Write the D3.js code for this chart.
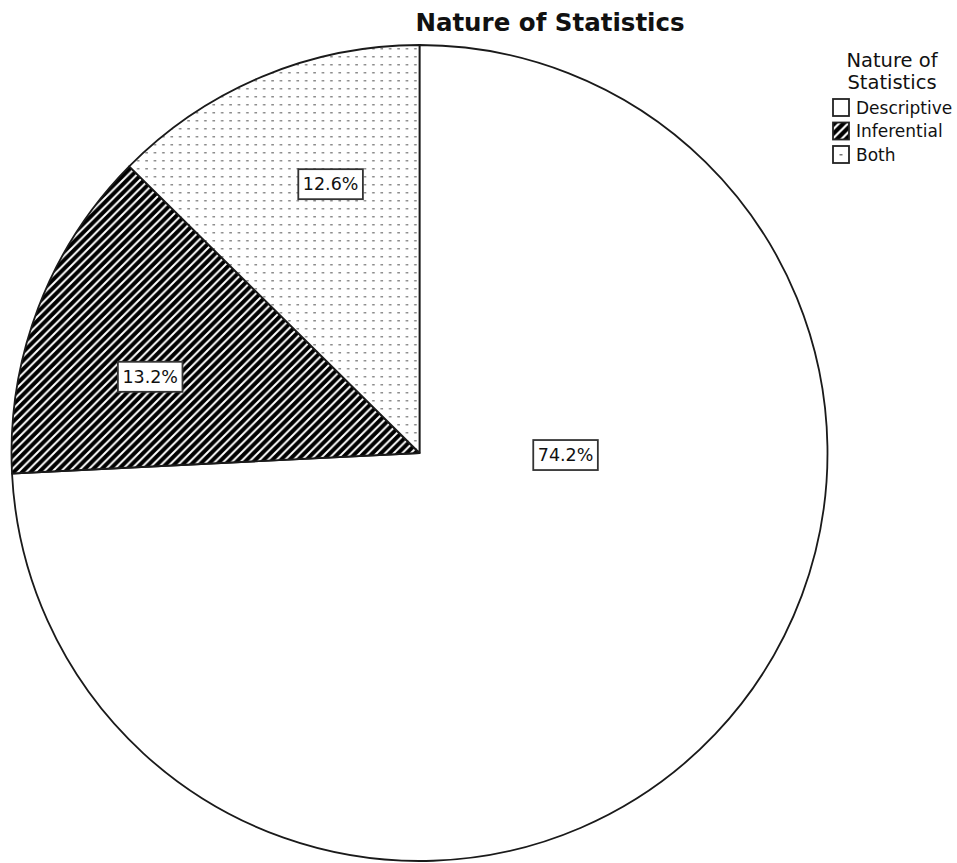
<!DOCTYPE html>
<html>
<head>
<meta charset="utf-8">
<script src="https://cdn.jsdelivr.net/npm/d3@7"></script>
<style>
  html, body { margin: 0; padding: 0; background: #fff; }
  svg { display: block; }
  text { font-family: "DejaVu Sans", "Open Sans", sans-serif; }
</style>
</head>
<body>
<svg id="chart" width="957" height="863"></svg>
<script>
// Data
const categories = ["Descriptive", "Inferential", "Both"];
const percents = [74.2, 13.2, 12.6];
const titleText = "Nature of Statistics";
const legendTitle = ["Nature of", "Statistics"];

// Layout
const W = 957, H = 863;
const cx = 419.5, cy = 453, R = 408;
const fillIds = ["fill-plain", "fill-hatch", "fill-dots"];
// label anchors in polar form (degrees clockwise from 12 o'clock, fraction of radius)
const labelPolar = [
  { deg: 90.8, r: 0.358 },
  { deg: 285.8, r: 0.686 },
  { deg: 341.7, r: 0.694 }
];

const svg = d3.select("#chart");
const defs = svg.append("defs");

// diagonal hatch: black ground with thin white "/" stripes
const hatch = defs.append("pattern")
  .attr("id", "fill-hatch").attr("patternUnits", "userSpaceOnUse")
  .attr("width", 8.5).attr("height", 8.5);
hatch.append("rect").attr("width", 8.5).attr("height", 8.5).attr("fill", "#000");
hatch.append("path")
  .attr("d", "M-2,2 L2,-2 M0,8.5 L8.5,0 M6.5,10.5 L10.5,6.5")
  .attr("stroke", "#fff").attr("stroke-width", 2);

// dotted fill: small grey dashes on white
const dots = defs.append("pattern")
  .attr("id", "fill-dots").attr("patternUnits", "userSpaceOnUse")
  .attr("width", 8.4).attr("height", 8);
dots.append("rect").attr("width", 8.4).attr("height", 8).attr("fill", "#fff");
dots.append("rect").attr("x", 3).attr("y", 3).attr("width", 2.6).attr("height", 1.5).attr("fill", "#8c8c8c");

// legend hatch (coarser)
const lhatch = defs.append("pattern")
  .attr("id", "legend-hatch").attr("patternUnits", "userSpaceOnUse")
  .attr("width", 9).attr("height", 9);
lhatch.append("rect").attr("width", 9).attr("height", 9).attr("fill", "#000");
lhatch.append("path")
  .attr("d", "M-2,2 L2,-2 M0,9 L9,0 M7,11 L11,7")
  .attr("stroke", "#fff").attr("stroke-width", 2.2);

const fillFor = i => i === 0 ? "#fff" : `url(#${fillIds[i]})`;

// Title
svg.append("text")
  .attr("x", 550).attr("y", 31)
  .attr("text-anchor", "middle")
  .attr("font-size", 24.5).attr("font-weight", "bold")
  .attr("fill", "#111")
  .text(titleText);

// Pie
const pie = d3.pie().sort(null).value(d => d)(percents);
const arc = d3.arc().innerRadius(0).outerRadius(R);
const g = svg.append("g").attr("transform", `translate(${cx},${cy})`);

g.selectAll("path.slice")
  .data(pie)
  .join("path")
  .attr("class", "slice")
  .attr("d", arc)
  .attr("fill", (d, i) => fillFor(i))
  .attr("stroke", "#1a1a1a")
  .attr("stroke-width", 1.8)
  .attr("stroke-linejoin", "round");

// Value labels in boxes
const fmt = v => d3.format(".1f")(v) + "%";
const lab = g.selectAll("g.lab")
  .data(pie)
  .join("g")
  .attr("class", "lab")
  .attr("transform", (d, i) => {
    const a = labelPolar[i].deg * Math.PI / 180;
    const rr = labelPolar[i].r * R;
    return `translate(${rr * Math.sin(a)},${-rr * Math.cos(a)})`;
  });

lab.each(function(d) {
  const sel = d3.select(this);
  const t = sel.append("text")
    .attr("text-anchor", "middle")
    .attr("dy", "0.36em")
    .attr("font-size", 17.5)
    .attr("fill", "#111")
    .text(fmt(d.data));
  const w = t.node().getComputedTextLength();
  sel.insert("rect", "text")
    .attr("x", -w / 2 - 4.5).attr("y", -15)
    .attr("width", w + 9).attr("height", 30)
    .attr("fill", "#fff")
    .attr("stroke", "#333")
    .attr("stroke-width", 1.8);
});

// Legend
const lg = svg.append("g").attr("transform", "translate(832,0)");
lg.selectAll("text.lt")
  .data(legendTitle)
  .join("text")
  .attr("class", "lt")
  .attr("x", 60).attr("y", (d, i) => 67 + i * 21.5)
  .attr("text-anchor", "middle")
  .attr("font-size", 19.5)
  .attr("fill", "#111")
  .text(d => d);

const items = lg.selectAll("g.item")
  .data(categories)
  .join("g")
  .attr("class", "item")
  .attr("transform", (d, i) => `translate(0,${98 + i * 23.5})`);

items.append("rect")
  .attr("x", 1).attr("y", 1)
  .attr("width", 16).attr("height", 17)
  .attr("fill", (d, i) => i === 1 ? "url(#legend-hatch)" : "#fff")
  .attr("stroke", "#222").attr("stroke-width", 1.8);

items.filter((d, i) => i === 2)
  .append("rect")
  .attr("x", 7.5).attr("y", 9).attr("width", 3).attr("height", 1.5)
  .attr("fill", "#777");

items.append("text")
  .attr("x", 24).attr("y", 15.5)
  .attr("font-size", 17)
  .attr("fill", "#111")
  .text(d => d);
</script>
</body>
</html>
